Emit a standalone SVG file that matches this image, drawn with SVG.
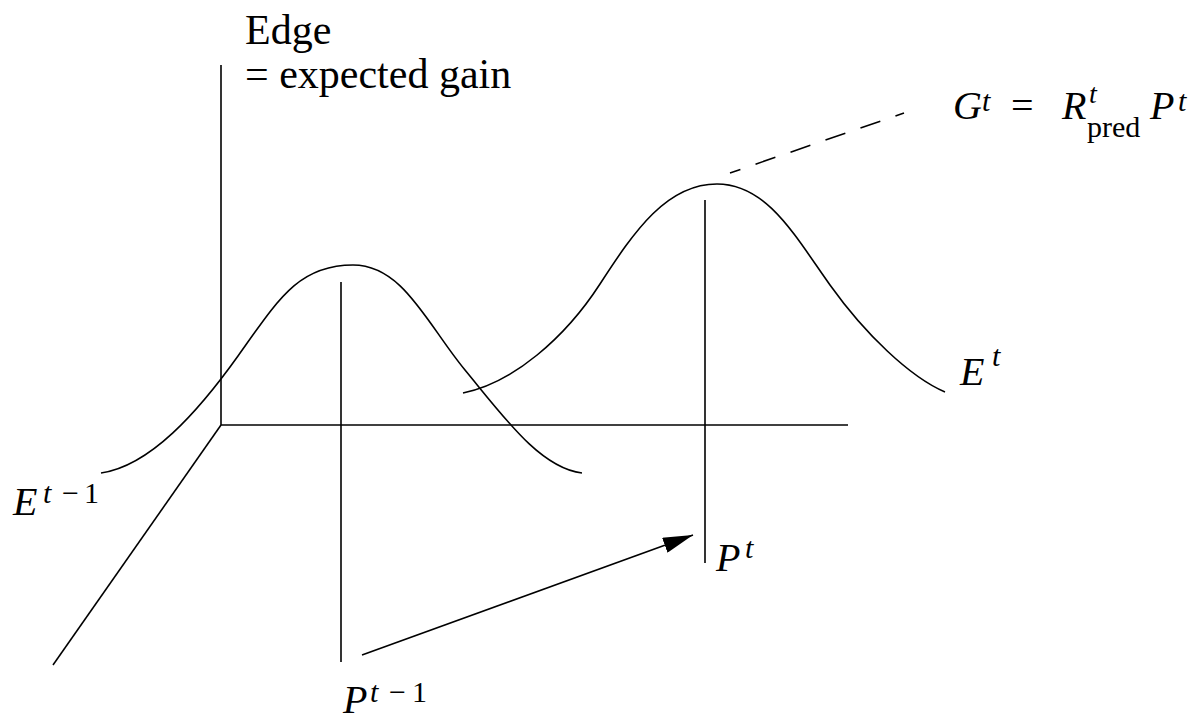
<svg xmlns="http://www.w3.org/2000/svg" width="1196" height="720" viewBox="0 0 1196 720">
<style>
.ln{fill:none;stroke:#000;stroke-width:1.6}
text{fill:#000}
.it{font-style:italic}
</style>
<defs>
<marker id="ah" markerUnits="userSpaceOnUse" markerWidth="30" markerHeight="16" refX="30" refY="8" orient="auto">
<path d="M0,0 L30,8 L0,16 z" fill="#000"/>
</marker>
</defs>
<rect width="1196" height="720" fill="#fff"/>
<g id="axes">
<line class="ln" x1="221" y1="65" x2="221" y2="425"/>
<line class="ln" x1="221" y1="425" x2="848" y2="425"/>
<line class="ln" x1="221" y1="425" x2="53" y2="665"/>
</g>
<g id="curve-prev">
<path class="ln" d="M101,473 C150,466 198,412 238,356 C278,300 298,265 353,265 C403,265 427,324 465,370 C503,416 540,468 582,473"/>
<line class="ln" x1="341" y1="282" x2="341" y2="662"/>
</g>
<g id="curve-cur">
<path class="ln" d="M463,393 C513,383 565,338 600,284 C635,230 667,184 717,184 C767,184 795,236 830,285 C865,334 910,377 945,392"/>
<line class="ln" x1="705" y1="200" x2="705" y2="563"/>
</g>
<g id="connectors">
<line class="ln" x1="730" y1="173" x2="904" y2="113" stroke-dasharray="21 16" stroke-dashoffset="10"/>
<line class="ln" x1="362" y1="655" x2="693" y2="535" marker-end="url(#ah)"/>
</g>
<g font-family="Liberation Serif, Times New Roman, Times, DejaVu Serif, FreeSerif, serif">
<g id="label-edge">
<text x="245" y="44" font-size="42">Edge</text>
<text x="245" y="88" font-size="42">= expected gain</text>
</g>
<g id="label-G">
<text class="it" x="953" y="119" font-size="40">G</text>
<text class="it" x="982" y="111" font-size="30">t</text>
<text x="1011" y="119" font-size="40">=</text>
<text class="it" x="1062" y="119" font-size="40">R</text>
<text class="it" x="1089" y="103" font-size="28">t</text>
<text x="1087" y="137" font-size="30">pred</text>
<text class="it" x="1150" y="119" font-size="40">P</text>
<text class="it" x="1178" y="111" font-size="30">t</text>
</g>
<g id="label-Eprev">
<text class="it" x="13" y="515" font-size="40">E</text>
<text class="it" x="43" y="503" font-size="30">t</text>
<text x="62" y="503" font-size="30">−</text>
<text x="84" y="503" font-size="30">1</text>
</g>
<g id="label-Ecur">
<text class="it" x="960" y="385" font-size="40">E</text>
<text class="it" x="992" y="366" font-size="30">t</text>
</g>
<g id="label-Pprev">
<text class="it" x="343" y="713" font-size="40">P</text>
<text class="it" x="370" y="702" font-size="30">t</text>
<text x="389" y="702" font-size="30">−</text>
<text x="412" y="702" font-size="30">1</text>
</g>
<g id="label-Pcur">
<text class="it" x="716" y="571" font-size="40">P</text>
<text class="it" x="745" y="558" font-size="30">t</text>
</g>
</g>
</svg>
